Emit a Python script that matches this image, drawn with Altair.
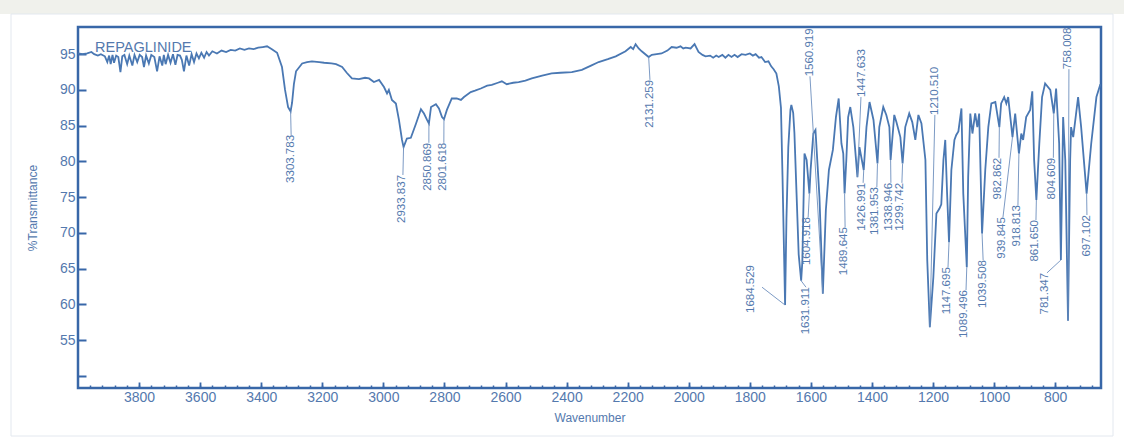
import altair as alt
import pandas as pd

# FTIR spectrum of repaglinide: wavenumber (cm-1) and % transmittance
wavenumber = [
    4000, 3985, 3970, 3956, 3947, 3935, 3925, 3912, 3904, 3898, 3893, 3887, 3882, 3875, 3868,
    3861, 3855, 3848, 3839, 3832, 3822, 3815, 3806, 3798, 3790, 3784, 3777, 3768, 3760, 3750,
    3741, 3733, 3724, 3719, 3713, 3705, 3697, 3689, 3681, 3674, 3666, 3660, 3653, 3645, 3636,
    3628, 3620, 3612, 3604, 3596, 3587, 3579, 3571, 3560, 3545, 3530, 3515, 3500, 3485, 3470,
    3455, 3440, 3425, 3410, 3395, 3381, 3365, 3348, 3332, 3322, 3312, 3303.783, 3299, 3293, 3286,
    3266, 3250, 3234, 3210, 3194, 3170, 3155, 3135, 3120, 3103, 3080, 3060, 3047, 3031, 3014,
    2998, 2988, 2982, 2972, 2959, 2949, 2939, 2933.837, 2923, 2910, 2893, 2877, 2867, 2857,
    2850.869, 2844, 2828, 2818, 2808, 2801.618, 2792, 2776, 2760, 2746, 2736, 2714, 2700, 2681,
    2660, 2645, 2625, 2612, 2596, 2575, 2557, 2535, 2514, 2480, 2449, 2420, 2383, 2350, 2320,
    2295, 2265, 2239, 2207, 2190, 2182, 2174, 2164, 2154, 2131.259, 2121, 2105, 2089, 2070, 2056,
    2040, 2027, 2018, 2010, 1994, 1981, 1968, 1955, 1945, 1930, 1920, 1910, 1902, 1890, 1880,
    1870, 1860, 1850, 1840, 1827, 1814, 1800, 1790, 1781, 1770, 1762, 1750, 1739, 1730, 1722,
    1713, 1705, 1698, 1693, 1684.529, 1680, 1674, 1667, 1664, 1658, 1654, 1647, 1640, 1631.911,
    1628, 1621, 1614, 1604.918, 1601, 1592, 1585, 1572, 1560.919, 1551, 1541, 1528, 1518, 1509,
    1500, 1494, 1489.645, 1484, 1478, 1471, 1461, 1447.633, 1441, 1426.991, 1418, 1408, 1395,
    1381.953, 1376, 1363, 1353, 1343, 1338.946, 1327, 1320, 1307, 1299.742, 1291, 1278, 1268,
    1258, 1248, 1238, 1225, 1219, 1210.510, 1199, 1189, 1179, 1173, 1166, 1160, 1154, 1147.695,
    1140, 1130, 1124, 1117, 1107, 1101, 1089.496, 1085, 1078, 1071, 1062, 1055, 1049, 1039.508,
    1029, 1019, 1009, 996, 982.862, 977, 967, 960, 954, 939.845, 931, 918.813, 911, 905, 895,
    882, 875, 869, 861.650, 852, 843, 833, 816, 804.609, 797, 787, 781.347, 774, 767, 758.008,
    751, 748, 741, 725, 715, 697.102, 682, 665, 652,
]
transmittance = [
    95.1, 95.0, 95.1, 95.3, 95.0, 94.8, 95.0, 94.7, 93.9, 94.8, 93.6, 94.9, 93.8, 94.8, 94.6,
    92.5, 94.7, 94.9, 93.6, 94.8, 93.4, 94.9, 93.9, 94.9, 94.6, 93.2, 94.8, 93.7, 94.9, 94.6,
    92.6, 94.7, 93.4, 94.9, 93.6, 94.9, 93.8, 95.0, 93.5, 94.9, 94.8, 94.2, 92.6, 94.8, 93.4,
    95.0, 93.9, 95.1, 94.4, 95.2, 94.5, 95.3, 94.8, 95.4, 95.1, 95.5, 95.3, 95.6, 95.5, 95.8,
    95.6, 95.8, 95.7, 95.9, 96.0, 96.1, 95.7, 95.2, 93.2, 90.0, 87.6, 87.0, 88.2, 90.8, 92.6,
    93.7, 93.9, 94.0, 93.9, 93.8, 93.7, 93.6, 93.2, 92.4, 91.6, 91.5, 91.7, 91.6, 91.1, 91.4,
    90.4, 89.5, 90.0, 88.6, 88.1, 85.8, 83.0, 82.0, 83.2, 83.3, 85.3, 87.3, 86.7, 85.8,
    85.3, 87.6, 88.0, 87.4, 86.2, 85.9, 87.2, 88.8, 88.8, 88.6, 89.0, 89.7, 89.9, 90.2,
    90.6, 90.7, 91.0, 91.2, 90.8, 91.0, 91.1, 91.3, 91.6, 92.0, 92.3, 92.4, 92.5, 92.8, 93.4,
    93.9, 94.3, 94.7, 95.4, 96.0, 95.7, 96.4, 95.8, 95.4, 94.6, 94.9, 95.0, 95.1, 95.5, 96.0,
    95.9, 96.1, 95.8, 95.9, 95.8, 96.4, 95.3, 94.9, 94.7, 94.8, 94.5, 94.8, 94.6, 94.9, 94.5,
    94.9, 94.6, 94.9, 94.6, 95.0, 94.9, 95.1, 94.8, 95.0, 94.5, 94.6, 93.9, 94.0, 93.3, 92.9,
    92.3, 90.5, 87.5, 78.0, 59.9, 72.0, 82.0, 87.2, 87.9, 86.8, 84.0, 75.5, 67.0, 63.3,
    66.0, 81.1, 80.2, 75.5, 78.8, 83.9, 84.4, 75.0, 61.5, 73.2, 78.8, 81.6, 86.2, 88.8,
    82.5, 81.1, 75.5, 80.2, 86.2, 87.6, 84.8, 77.8, 82.0, 78.8, 84.8, 88.3, 85.8,
    79.7, 84.8, 87.6, 86.5, 84.8, 80.2, 86.5, 85.5, 83.4, 79.7, 84.8, 86.7, 85.5,
    83.0, 86.5, 85.3, 80.2, 66.2, 56.8, 63.8, 72.7, 73.4, 74.0, 80.2, 83.0, 75.5, 68.7,
    78.8, 83.0, 83.7, 84.2, 87.4, 75.5, 65.2, 77.8, 86.7, 83.9, 86.7, 84.8, 86.7, 69.9,
    78.8, 84.8, 88.1, 88.3, 84.8, 88.1, 89.0, 88.1, 89.0, 83.4, 86.7, 81.1, 83.9, 83.0, 86.2,
    87.2, 89.8, 80.2, 74.6, 82.5, 89.0, 90.9, 90.0, 86.7, 90.2, 82.5, 66.2, 86.2, 80.2, 57.7,
    80.2, 84.8, 83.4, 89.0, 84.8, 75.5, 82.5, 89.0, 90.8,
]

# Labelled absorption bands
peak_wn = [
    3303.783, 2933.837, 2850.869, 2801.618, 2131.259, 1684.529, 1631.911, 1604.918, 1560.919,
    1489.645, 1447.633, 1426.991, 1381.953, 1338.946, 1299.742, 1210.510, 1147.695, 1089.496,
    1039.508, 982.862, 939.845, 918.813, 861.650, 804.609, 781.347, 758.008, 697.102,
]
# Where each label sits (wavenumber of its column, % T of its anchor end)
label_wn = [
    3302, 2939, 2854, 2805, 2127, 1796, 1616, 1613, 1603,
    1492, 1433, 1433, 1390, 1344, 1308, 1194, 1154, 1099,
    1036, 987, 974, 925, 866, 810, 833, 758, 696,
]
label_T = [
    83.7, 78.1, 82.6, 82.6, 91.4, 65.5, 62.4, 72.2, 91.9,
    70.8, 89.0, 77.0, 76.4, 77.0, 77.0, 86.5, 65.2, 62.0,
    66.2, 80.5, 72.2, 73.9, 71.8, 80.5, 64.4, 92.9, 72.5,
]
label_above = [
    False, False, False, False, False, False, False, False, True,
    False, True, False, False, False, False, True, False, False,
    False, False, False, False, False, False, False, True, False,
]
# Leader lines run from each band minimum to these points
lead_wn = [
    3302, 2936, 2851, 2802, 2127, 1760, 1616, 1609, 1603,
    1488, 1436, 1429, 1384, 1338, 1302, 1194, 1151, 1092,
    1036, 984, 971, 922, 863, 806, 827, 755, 696,
]
lead_T = [
    83.7, 78.1, 82.6, 82.6, 91.4, 62.4, 62.4, 72.2, 91.9,
    70.8, 89.0, 77.0, 76.4, 77.0, 77.0, 86.5, 65.2, 62.0,
    66.2, 80.5, 72.2, 73.9, 71.8, 80.5, 64.4, 92.9, 72.5,
]

major_ticks = [3800, 3600, 3400, 3200, 3000, 2800, 2600, 2400, 2200, 2000, 1800, 1600, 1400, 1200, 1000, 800]
minor_ticks = list(range(3960, 660, -40))
y_ticks = [50, 55, 60, 65, 70, 75, 80, 85, 90, 95]

BLUE_LINE = "#4a78b3"
BLUE_FRAME = "#3867a8"
BLUE_TEXT = "#5479ae"
FONT = "Liberation Sans"

spectrum = pd.DataFrame({"wn": wavenumber, "T": transmittance})
t_at = dict(zip(wavenumber, transmittance))
peaks = pd.DataFrame({
    "wn": peak_wn,
    "T": [t_at[w] for w in peak_wn],
    "text": [f"{w:.3f}" for w in peak_wn],
    "label_wn": label_wn,
    "label_T": label_T,
    "above": label_above,
    "lead_wn": lead_wn,
    "lead_T": lead_T,
})

x_scale = alt.Scale(domain=[650, 4000], reverse=True, nice=False, zero=False)
y_scale = alt.Scale(domain=[48.3, 98.8], nice=False, zero=False)

# One y axis definition shared by every layer so the merged axis keeps it
y_axis = alt.Axis(
    orient="left", values=y_ticks, labelExpr="datum.value == 50 ? '' : datum.label",
    title="%Transmittance", domain=False, grid=False, offset=-8, tickSize=8, tickWidth=2,
    tickColor=BLUE_FRAME, labelPadding=3, labelFont=FONT, labelFontSize=14,
    labelColor=BLUE_TEXT, titleFont=FONT, titleFontSize=12, titleFontWeight="normal",
    titleColor=BLUE_TEXT, titlePadding=20,
)

one = pd.DataFrame({"k": [0]})

# Page furniture: grey strip along the top and a faint panel outline
strip = alt.Chart(one).mark_rect(color="#f0f1ec").encode(
    x=alt.value(-78), x2=alt.value(1046), y=alt.value(-27), y2=alt.value(-13)
)
panel = alt.Chart(one).mark_rect(fill=None, stroke="#e3e8ef", strokeWidth=1).encode(
    x=alt.value(-67), x2=alt.value(1035), y=alt.value(-13), y2=alt.value(409)
)

line = alt.Chart(spectrum).mark_line(color=BLUE_LINE, strokeWidth=1.8, clip=True).encode(
    x=alt.X("wn:Q", scale=x_scale, axis=alt.Axis(
        orient="bottom", values=major_ticks, format="d", title="Wavenumber",
        domain=False, grid=False, offset=-6, tickSize=6, tickWidth=1.8, tickColor=BLUE_FRAME,
        labelPadding=2, labelFont=FONT, labelFontSize=14, labelColor=BLUE_TEXT,
        titleFont=FONT, titleFontSize=12, titleFontWeight="normal", titleColor=BLUE_TEXT,
        titlePadding=8,
    )),
    y=alt.Y("T:Q", scale=y_scale, axis=y_axis),
)

leaders = alt.Chart(peaks).mark_rule(color="#6d8fbd", strokeWidth=0.9, clip=True).encode(
    x=alt.X("wn:Q", scale=x_scale, axis=alt.Axis(
        orient="bottom", values=minor_ticks, labels=False, title=None, domain=False,
        grid=False, offset=-3, tickSize=3, tickWidth=1.5, tickColor=BLUE_FRAME,
    )),
    y=alt.Y("T:Q", scale=y_scale, axis=y_axis),
    x2="lead_wn:Q",
    y2="lead_T:Q",
)

labels_below = alt.Chart(peaks).transform_filter("!datum.above").mark_text(
    angle=270, align="right", baseline="middle", font=FONT, fontSize=11.5, color=BLUE_TEXT
).encode(
    x=alt.X("label_wn:Q", scale=x_scale, axis=None),
    y=alt.Y("label_T:Q", scale=y_scale, axis=y_axis),
    text="text:N",
)
labels_above = alt.Chart(peaks).transform_filter("datum.above").mark_text(
    angle=270, align="left", baseline="middle", font=FONT, fontSize=11.5, color=BLUE_TEXT
).encode(
    x=alt.X("label_wn:Q", scale=x_scale, axis=None),
    y=alt.Y("label_T:Q", scale=y_scale, axis=y_axis),
    text="text:N",
)

sample = pd.DataFrame({"wn": [3944], "T": [95.9], "name": ["REPAGLINIDE"]})
sample_name = alt.Chart(sample).mark_text(
    align="left", baseline="middle", font=FONT, fontSize=14.5, color=BLUE_TEXT
).encode(
    x=alt.X("wn:Q", scale=x_scale, axis=None),
    y=alt.Y("T:Q", scale=y_scale, axis=y_axis),
    text="name:N",
)

chart = (
    alt.layer(strip, panel, line, leaders, labels_below, labels_above, sample_name)
    .resolve_axis(x="independent")
    .properties(
        width=1023,
        height=361,
        autosize="none",
        padding={"left": 78, "top": 27, "right": 23, "bottom": 52},
        background="white",
    )
    .configure_view(stroke=BLUE_FRAME, strokeWidth=2.5)
)

chart.save("out.html", embed_options={"renderer": "svg", "actions": False})
